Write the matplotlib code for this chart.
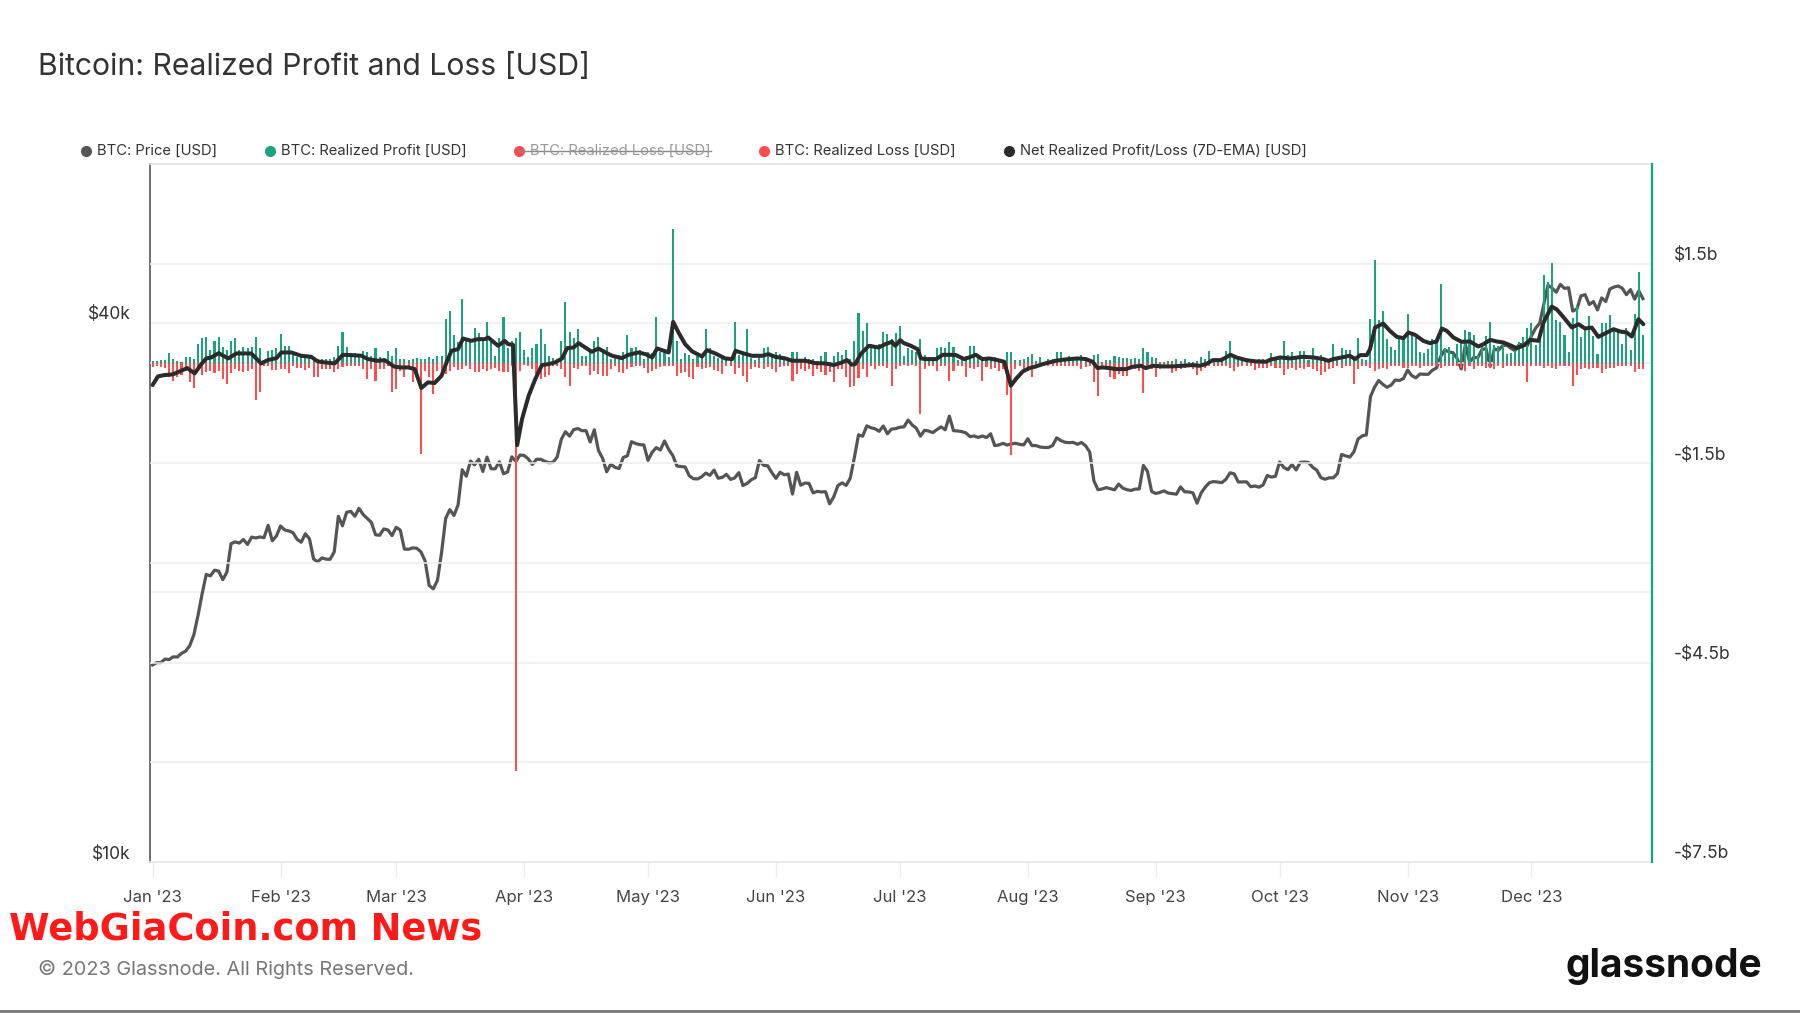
import numpy as np
import pandas as pd
import matplotlib
matplotlib.use("Agg")
import matplotlib.pyplot as plt
import matplotlib.transforms as mtransforms
from matplotlib.ticker import FixedLocator, NullLocator
from matplotlib.lines import Line2D

plt.rcParams['font.family'] = ['Inter', 'DejaVu Sans']

# ---------------- data ----------------
start = pd.Timestamp('2023-01-01')

# BTC price, thousands of USD, daily from 2023-01-01
price_k = [
    16.6, 16.7, 16.7, 16.85, 16.83, 16.95, 16.94, 17.1, 17.2, 17.44, 17.94, 18.85, 19.93, 20.95, 20.87, 21.18,
    21.13, 20.67, 21.07, 22.67, 22.78, 22.71, 22.92, 22.63, 23.06, 23.01, 23.07, 23.03, 23.77, 22.84, 23.13,
    23.73, 23.49, 23.43, 23.33, 22.93, 22.76, 23.26, 22.96, 21.8, 21.63, 21.86, 21.79, 21.78, 22.2, 24.33, 23.74,
    24.58, 24.64, 24.33, 24.83, 24.44, 24.19, 23.95, 23.2, 23.17, 23.55, 23.49, 23.15,
    23.65, 23.48, 22.36, 22.35, 22.43, 22.41, 22.2, 21.7, 20.36, 20.19, 20.63, 22.16, 24.2, 24.75, 24.38, 25.05,
    27.42, 26.97, 28.04, 27.77, 28.17, 27.3, 28.33, 27.49, 27.49, 27.99, 27.14, 27.27, 28.35, 28.03, 28.48,
    28.45, 28.2, 27.8, 28.17, 28.17, 28.03, 27.92, 27.95, 28.33, 29.65, 30.24, 29.9, 30.4, 30.49, 30.32, 30.32,
    29.45, 30.39, 28.82, 28.25, 27.28, 27.82, 27.59, 27.51, 28.3, 28.42, 29.47, 29.34, 29.25, 29.23,
    28.09, 28.68, 29.03, 28.85, 29.53, 28.9, 28.45, 27.69, 27.65, 27.62, 27.0, 26.8, 26.78, 26.93, 27.19, 27.03,
    27.4, 26.83, 26.89, 27.1, 26.75, 26.85, 27.22, 26.33, 26.47, 26.72, 26.87, 28.08, 27.74, 27.7, 27.22,
    26.82, 27.25, 27.07, 27.12, 25.76, 27.24, 26.35, 26.5, 26.48, 25.84, 25.94, 25.9, 25.92, 25.12, 25.58, 26.33,
    26.51, 26.34, 26.84, 28.31, 30.0, 29.89, 30.7, 30.55, 30.47, 30.27, 30.69, 30.08, 30.45, 30.48,
    30.59, 30.62, 31.16, 30.77, 30.51, 29.9, 30.35, 30.29, 30.17, 30.41, 30.62, 30.39, 31.48, 30.32, 30.3, 30.25,
    30.15, 29.86, 29.91, 29.8, 29.91, 29.79, 30.08, 29.18, 29.23, 29.35, 29.22, 29.31, 29.35, 29.28, 29.23,
    29.7, 29.18, 29.18, 29.07, 29.04, 29.04, 29.18, 29.77, 29.56, 29.43, 29.4, 29.42, 29.28, 29.41, 29.17, 28.7,
    26.66, 26.05, 26.1, 26.19, 26.12, 26.04, 26.43, 26.16, 26.05, 26.0, 26.09, 26.1, 27.73, 27.3, 25.93,
    25.8, 25.87, 25.97, 25.83, 25.79, 25.75, 26.24, 25.91, 25.9, 25.84, 25.16, 25.84, 26.23, 26.53, 26.6, 26.57,
    26.53, 26.76, 27.21, 27.13, 26.57, 26.58, 26.58, 26.25, 26.3, 26.22, 26.37, 27.02, 26.91, 26.97,
    27.98, 27.59, 27.43, 27.79, 27.41, 27.95, 27.97, 27.94, 27.6, 27.39, 26.87, 26.76, 26.86, 26.86, 27.15, 28.52,
    28.42, 28.33, 28.72, 29.68, 29.92, 29.99, 33.09, 33.92, 34.5, 34.16, 33.9, 34.09, 34.54, 34.5, 34.67,
    35.44, 34.94, 34.73, 35.08, 35.05, 35.05, 35.42, 35.63, 36.69, 37.31, 37.13, 37.06, 36.5, 35.54, 37.86, 36.16,
    36.6, 36.57, 37.36, 37.45, 35.75, 37.42, 37.29, 37.72, 37.79, 37.48, 37.25, 37.83, 37.85, 37.72,
    38.69, 39.46, 39.98, 41.98, 44.08, 43.75, 43.29, 44.17, 43.72, 43.79, 41.24, 41.45, 42.89, 43.02, 41.94, 42.26,
    41.36, 42.66, 42.27, 43.65, 43.87, 43.99, 43.73, 43.02, 43.58, 42.52, 43.44, 42.58,
]

# Realized profit, billions USD, daily from 2023-01-01
profit_b = [
    .04, .04, .05, .05, .155, .065, .04, .025, .09, .09,
    .065, .29, .38, .405, .205, .335, .405, .24, .205, .335,
    .38, .205, .25, .225, .25, .405, .225, .05, .18, .205,
    .225, .45, .265, .265, .16, .09, .125, .125, .115, .09,
    .065, .065, .065, .065, .09, .265, .475, .25, .155, .16,
    .135, .185, .175, .115, .225, .09, .055, .18, .115, .225,
    .065, .065, .05, .065, .075, .065, .065, .09, .065, .115,
    .115, .675, .79, .43, .315, .965, .33, .33, .54, .455,
    .38, .63, .39, .115, .38, .695, .225, .34, .39, .48,
    .2, .09, .225, .29, .515, .29, .115, .075, .065, .34,
    .925, .475, .38, .515, .115, .115, .215, .34, .4, .165,
    .25, .065, .125, .13, .165, .43, .225, .25, .2, .065,
    .165, .15, .7, .165, .15, .09, 2.025, .34, .065, .155,
    .13, .065, .115, .09, .515, .225, .115, .075, .13, .09,
    .065, .63, .125, .155, .515, .075, .05, .09, .225, .25,
    .13, .175, .14, .09, .065, .175, .175, .065, .09, .065,
    .065, .04, .115, .165, .025, .115, .165, .13, .205, .065,
    .335, .765, .49, .605, .29, .225, .29, .475, .45, .365,
    .465, .56, .115, .225, .2, .165, .365, .13, .09, .075,
    .23, .25, .225, .315, .25, .055, .115, .115, .265, .265,
    .13, .075, .09, .065, .1, .065, .055, .165, .165, .05,
    .05, .065, .09, .135, .04, .09, .015, .065, .065, .165,
    .165, .065, .105, .065, .075, .13, .065, .065, .13, .135,
    .025, .05, .05, .105, .09, .075, .075, .065, .075, .065,
    .225, .165, .09, .075, .025, .025, .04, .04, .065, .04,
    .065, .025, .025, .04, .09, .065, .18, .065, .04, .065,
    .19, .34, .09, .065, .055, .05, .05, .05, .065, .065,
    .05, .16, .075, .115, .34, .125, .175, .09, .18, .18,
    .05, .225, .09, .13, .065, .055, .29, .09, .225, .2,
    .205, .09, .38, .065, .055, .675, 1.555, .655, .79, .365,
    .24, .205, .365, .39, .74, .45, .38, .175, .155, .215,
    .365, .365, 1.2, .225, .25, .14, .29, .305, .5, .48,
    .425, .13, .255, .415, .63, .275, .265, .305, .14, .15,
    .19, .325, .4, .53, .615, .275, .465, 1.33, 1.23, 1.505,
    .65, .63, .425, .165, .68, .865, .405, .525, .715, .415,
    .14, .605, .605, .725, .49, .49, .29, .54, .2, .74, 1.375, .425,
]

# Realized loss (magnitude), billions USD, daily from 2023-01-01
loss_b = [
    .06, .045, .06, .075, .21, .26, .21, .175, .11, .285,
    .37, .085, .175, .135, .11, .145, .11, .235, .31, .145,
    .085, .11, .135, .11, .085, .55, .435, .035, .045, .095,
    .095, .085, .085, .145, .045, .07, .075, .1, .07, .2,
    .21, .085, .085, .085, .135, .085, .06, .045, .035, .045,
    .035, .085, .235, .085, .26, .085, .085, .035, .435, .385,
    .11, .21, .085, .275, .16, 1.36, .11, .21, .46, .11,
    .11, .16, .11, .06, .095, .085, .045, .085, .125, .135,
    .085, .12, .085, .075, .11, .135, .125, .035, 6.13, .11,
    .03, .035, .085, .16, .235, .21, .17, .045, .045, .085,
    .21, .335, .07, .085, .045, .045, .175, .12, .16, .185,
    .195, .085, .045, .135, .15, .085, .05, .035, .035, .07,
    .15, .11, .085, .06, .045, .035, .035, .195, .145, .135,
    .21, .235, .06, .085, .07, .06, .1, .12, .16, .045,
    .035, .16, .07, .185, .285, .085, .05, .07, .085, .06,
    .085, .125, .06, .035, .035, .26, .16, .085, .11, .085,
    .195, .085, .125, .17, .125, .285, .085, .085, .21, .35,
    .335, .225, .085, .21, .045, .085, .045, .035, .07, .335,
    .085, .04, .025, .045, .025, .045, .76, .085, .045, .035,
    .11, .045, .035, .27, .11, .045, .035, .21, .07, .085,
    .06, .27, .05, .085, .07, .11, .085, .47, 1.38, .085,
    .035, .085, .11, .21, .07, .045, .035, .035, .045, .035,
    .035, .035, .035, .035, .045, .085, .05, .045, .285, .485,
    .085, .085, .21, .235, .16, .185, .195, .085, .085, .11,
    .445, .085, .085, .21, .085, .045, .07, .145, .12, .085,
    .07, .06, .085, .17, .12, .07, .035, .045, .035, .045,
    .035, .07, .12, .06, .035, .035, .035, .1, .07, .07,
    .07, .045, .07, .07, .175, .085, .07, .1, .07, .085,
    .06, .085, .11, .175, .125, .085, .07, .045, .07, .045,
    .045, .31, .085, .035, .035, .07, .12, .085, .07, .085,
    .035, .045, .045, .07, .07, .045, .035, .07, .045, .045,
    .045, .035, .07, .045, .045, .035, .045, .07, .11, .045,
    .085, .045, .035, .07, .07, .085, .045, .07, .035, .035,
    .045, .045, .045, .285, .045, .035, .035, .07, .045, .07,
    .085, .045, .045, .035, .335, .175, .085, .07, .085, .07,
    .07, .145, .085, .07, .07, .045, .045, .035, .045, .125, .085, .085,
]

# Net Realized Profit/Loss (7D-EMA), billions USD: days since 2023-01-01 and values
ema_day = [
    0, 1.3, 2.9, 4.9, 6.9, 8.4, 10.2, 11.8, 13, 14.2, 16, 18.3, 20.3, 22.3, 23.9, 26.3, 27.9, 30, 31.2, 33.6,
    36, 38.4, 40, 41.7, 44.1, 46.1, 48.1, 50.6, 52.2, 54.6, 56.2, 58.6, 60.3, 61.9, 63.5, 65.1, 66.7, 68.3, 70,
    71.2, 72.4, 74, 75.2, 77.2, 78.8, 80.5, 81.3, 83.7, 85.3, 86.1, 87.3, 88.3, 89.5, 91.1, 92.7, 94.3, 95.9,
    97.5, 99.2, 100.4, 102, 103.2, 104.8, 106.4, 108, 109.7, 111.3, 113.7, 115.3, 117.7, 119.4, 121, 122.2, 125,
    126.1, 127.4, 129, 130.7, 133.1, 134.3, 136.3, 138.7, 140.4, 141.2, 143.2, 145.2, 147.6, 149.2, 150.8, 153.3,
    154.9, 158.1, 160.5, 162.9, 165, 167, 168.2, 169.4, 170.2, 171.5, 173.5, 175.9, 177.5, 179.1, 179.9, 181.1,
    182, 183.7, 185.3, 186.1, 187.3, 189.8, 191.4, 193.4, 194.6, 196.6, 197.8, 199.4, 201, 202.7, 204.7, 206.3,
    207.9, 209.1, 210.8, 212.4, 214, 215.6, 217.2, 218.8, 220.4, 222, 224.1, 226.1, 227.7, 228.9, 230.1, 231.8,
    233.4, 235.8, 237.4, 239.4, 240.6, 242.3, 244.7, 247.1, 249.5, 251.9, 253.6, 255.2, 256.8, 258.8, 260, 261.1,
    262.5, 264.9, 267.3, 269.7, 270.7, 273.1, 275.5, 278.7, 281.2, 283.6, 284.8, 286, 288, 290, 291.3, 292.5,
    294.1, 294.9, 296.1, 298.1, 299.7, 301.4, 303, 304.2, 305.8, 307.8, 309.4, 311, 312.3, 313.5, 315.1, 317.1,
    319.1, 321.1, 322.4, 324, 325.6, 327.2, 328.8, 330.4, 332, 333.7, 335.7, 336.9, 338.9, 340.1, 341.7, 343.8,
    345.4, 347, 348.6, 350.2, 351.8, 353.9, 355.5, 357.1, 358.3, 359.9, 361.1,
]
ema_b = [
    -0.325, -0.195, -0.175, -0.165, -0.11, -0.07, -0.15, -0.01, 0.075, 0.09, 0.155, 0.075, 0.15, 0.15, 0.15, 0.0,
    0.05, 0.08, 0.165, 0.165, 0.115, 0.1, 0.03, 0.015, 0.0, 0.13, 0.125, 0.115, 0.065, 0.04, 0.05, -0.05, -0.06,
    -0.06, -0.085, -0.37, -0.285, -0.295, -0.185, 0.015, 0.19, 0.215, 0.375, 0.34, 0.365, 0.365, 0.39, 0.265,
    0.34, 0.29, 0.28, -1.23, -0.835, -0.485, -0.235, -0.025, -0.01, 0.015, 0.075, 0.23, 0.24, 0.305, 0.24, 0.175,
    0.225, 0.165, 0.115, 0.08, 0.13, 0.165, 0.14, 0.09, 0.225, 0.165, 0.625, 0.465, 0.29, 0.18, 0.105, 0.2, 0.15,
    0.075, 0.065, 0.19, 0.15, 0.115, 0.115, 0.14, 0.1, 0.075, 0.04, 0.04, 0.005, 0.0, -0.025, 0.015, 0.05, -0.02,
    -0.01, 0.14, 0.265, 0.24, 0.29, 0.325, 0.265, 0.35, 0.305, 0.265, 0.215, 0.075, 0.065, 0.065, 0.13, 0.13,
    0.125, 0.065, 0.09, 0.13, 0.065, 0.075, 0.05, 0.025, -0.335, -0.235, -0.12, -0.07, -0.045, -0.01, 0.015, 0.04,
    0.055, 0.065, 0.075, 0.065, 0.025, -0.07, -0.06, -0.07, -0.085, -0.085, -0.05, -0.035, -0.07, -0.035, -0.045,
    -0.045, -0.035, -0.025, -0.035, -0.01, 0.05, 0.05, 0.09, 0.13, 0.09, 0.05, 0.03, 0.025, 0.055, 0.09, 0.075,
    0.1, 0.09, 0.065, 0.04, 0.065, 0.09, 0.115, 0.065, 0.125, 0.125, 0.215, 0.54, 0.6, 0.49, 0.4, 0.38, 0.465,
    0.43, 0.34, 0.305, 0.33, 0.525, 0.49, 0.39, 0.325, 0.33, 0.255, 0.29, 0.355, 0.33, 0.315, 0.275, 0.23, 0.265,
    0.355, 0.34, 0.615, 0.855, 0.815, 0.7, 0.54, 0.59, 0.525, 0.54, 0.4, 0.45, 0.515, 0.48, 0.465, 0.405, 0.665,
    0.59,
]

month_labels = ["Jan '23", "Feb '23", "Mar '23", "Apr '23", "May '23", "Jun '23",
                "Jul '23", "Aug '23", "Sep '23", "Oct '23", "Nov '23", "Dec '23"]
left_ticks = [10000, 20000, 40000]
left_labels = ['$10k', '', '$40k']
right_ticks = [1.5, 0, -1.5, -3, -4.5, -6, -7.5]
right_labels = ['$1.5b', '', '-$1.5b', '', '-$4.5b', '', '-$7.5b']

legend_items = [
    ('BTC: Price [USD]', '#555555', False),
    ('BTC: Realized Profit [USD]', '#1ba37e', False),
    ('BTC: Realized Loss [USD]', '#ff4d4f', True),
    ('BTC: Realized Loss [USD]', '#ff4d4f', False),
    ('Net Realized Profit/Loss (7D-EMA) [USD]', '#2b2b2b', False),
]

# ---------------- figure ----------------
GREEN = '#1ba37e'
RED = '#ff4d4f'
W, H = 1800, 1013
fig = plt.figure(figsize=(W / 100, H / 100), dpi=100)
L, R, T, B = 150, 1652, 164, 862
rect = [L / W, 1 - B / H, (R - L) / W, (B - T) / H]

ax1 = fig.add_axes(rect)
ax2 = ax1.twinx()

d_price = pd.date_range(start, periods=len(price_k), freq='D')
d_profit = pd.date_range(start, periods=len(profit_b), freq='D')
d_loss = pd.date_range(start, periods=len(loss_b), freq='D')
d_ema = start + pd.to_timedelta(np.array(ema_day, dtype=float), unit='D')

# price (left, log)
ax1.plot(d_price, np.array(price_k) * 1000, color='#555555', lw=2.3, solid_joinstyle='round', zorder=3)
ax1.set_yscale('log')
ax1.set_ylim(10000, 60200)
ax1.yaxis.set_major_locator(FixedLocator(left_ticks))
ax1.yaxis.set_minor_locator(NullLocator())
ax1.set_yticklabels(left_labels)
ax1.grid(axis='y', color='#ededed', lw=1.1, zorder=0)
ax1.set_axisbelow(True)

# bars + ema (right, linear)
ax2.bar(d_profit, profit_b, width=0.5, color=GREEN, linewidth=0, zorder=2)
ax2.bar(d_loss, -np.array(loss_b), width=0.5, color=RED, linewidth=0, zorder=2)
ax2.plot(d_ema, ema_b, color='#2b2b2b', lw=2.9, solid_joinstyle='round', solid_capstyle='round', zorder=4)
ax2.set_ylim(-7.5, 3.0)
ax2.yaxis.set_major_locator(FixedLocator(right_ticks))
ax2.set_yticklabels(right_labels)
ax2.grid(axis='y', color='#ededed', lw=1.1, zorder=0)
ax2.set_axisbelow(True)

# x axis
ax1.set_xlim(start - pd.Timedelta(hours=15), start + pd.Timedelta(days=363.2))
mt = pd.date_range('2023-01-01', periods=12, freq='MS')
ax1.set_xticks(mt)
ax1.set_xticklabels(month_labels)
ax1.tick_params(axis='x', length=11, width=1, color='#ececec', labelsize=12, labelcolor='#444444', pad=9.5)
ax1.tick_params(axis='y', length=0, labelsize=12.5, labelcolor='#333333', pad=14)
ax2.tick_params(axis='y', length=0, labelsize=12.5, labelcolor='#333333', pad=16)

off = mtransforms.ScaledTranslation(0, 10 / 100, fig.dpi_scale_trans)
for lab in ax1.get_yticklabels() + ax2.get_yticklabels():
    lab.set_transform(lab.get_transform() + off)

# spines
for sp in ['top', 'bottom']:
    ax1.spines[sp].set_color('#e4e4e4')
    ax1.spines[sp].set_linewidth(1.2)
ax1.spines['left'].set_color('#666666')
ax1.spines['left'].set_linewidth(1.3)
ax1.spines['right'].set_visible(False)
ax2.spines['right'].set_color(GREEN)
ax2.spines['right'].set_linewidth(1.6)
for sp in ['left', 'top', 'bottom']:
    ax2.spines[sp].set_visible(False)

# title
fig.text(38 / W, 1 - 67 / H, 'Bitcoin: Realized Profit and Loss [USD]', fontsize=21.7,
         color='#333333', va='center', ha='left')

# legend
leg_x = [86, 270, 519, 764, 1009]
ly = 1 - 151 / H
for (lbl, col, struck), x in zip(legend_items, leg_x):
    fig.add_artist(Line2D([x / W], [ly], marker='o', markersize=7, color=col, linestyle='none',
                          transform=fig.transFigure))
    t = fig.text((x + 11) / W, ly, lbl, fontsize=10.65, va='center', ha='left',
                 color='#999999' if struck else '#333333')
    if struck:
        fig.canvas.draw()
        bb = t.get_window_extent()
        fig.add_artist(Line2D([x / W, bb.x1 / W], [ly, ly], color='#888888', lw=1,
                              transform=fig.transFigure))

# footer
fig.text(9 / W, 1 - 929 / H, 'WebGiaCoin.com News', fontsize=26.5, fontweight='heavy',
         family=['Liberation Sans Narrow', 'DejaVu Sans'], color='#ff1a1a', va='center', ha='left')
fig.text(38 / W, 1 - 969 / H, '\u00a9 2023 Glassnode. All Rights Reserved.', fontsize=14.3,
         color='#777777', va='center', ha='left')
fig.text(1762 / W, 1 - 966 / H, 'glassnode', fontsize=28, fontweight='bold', color='#111111',
         va='center', ha='right')
fig.add_artist(Line2D([0, 1], [1 - 1011 / H, 1 - 1011 / H], color='#777777', lw=2,
                      transform=fig.transFigure))

fig.savefig('out.png', dpi=100, facecolor='white')
